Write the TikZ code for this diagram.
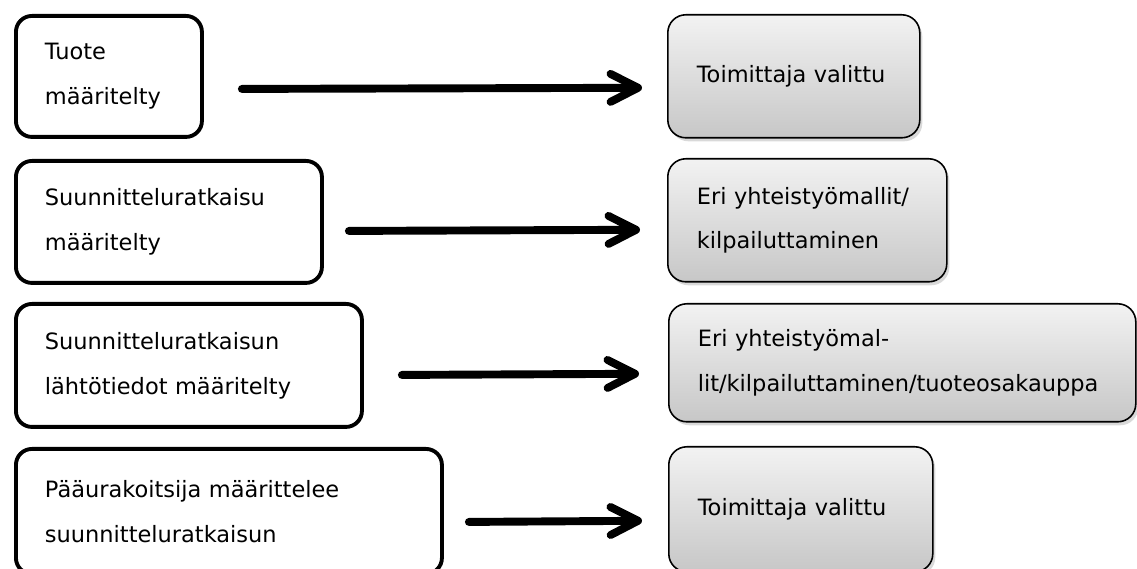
\documentclass[tikz,border=0pt]{standalone}
\usepackage{fontspec}
\setmainfont{DejaVu Sans}
\usetikzlibrary{positioning,arrows.meta,shadows}

\begin{document}
\begin{tikzpicture}[every node/.style={font=\fontsize{12.8}{25.6}\selectfont},
  lbox/.style={draw, line width=2.2pt, rounded corners=0.32cm, fill=white, anchor=north west, align=left, inner xsep=0.58cm},
  rbox/.style={draw, line width=0.9pt, rounded corners=0.36cm, top color=black!5, bottom color=black!22, drop shadow={shadow xshift=0.05cm, shadow yshift=-0.07cm, opacity=0.3}, anchor=north west, align=left, inner xsep=0.58cm},
  flow/.style={-{Straight Barb[length=0.55cm, width=0.56cm, line cap=round, line join=round]}, line width=4.5pt, line cap=round}]
  \useasboundingbox (0,0) rectangle (22.74,-11.38);
  % left column
  \node[lbox, text width=2.56cm, minimum height=2.42cm] (tuote) at (0.28,-0.28) {Tuote\\määritelty};
  \node[lbox, text width=4.96cm, minimum height=2.44cm] (ratkaisu) at (0.28,-3.18) {Suunnitteluratkaisu\\määritelty};
  \node[lbox, text width=5.76cm, minimum height=2.46cm] (lahtotiedot) at (0.28,-6.04) {Suunnitteluratkaisun\\lähtötiedot määritelty};
  \node[lbox, text width=7.36cm, minimum height=2.5cm] (paaurakoitsija) at (0.28,-8.94) {Pääurakoitsija määrittelee\\suunnitteluratkaisun};
  % right column
  \node[rbox, text width=3.88cm, minimum height=2.46cm] (valittu) at (13.34,-0.28) {Toimittaja valittu};
  \node[rbox, text width=4.42cm, minimum height=2.46cm] (mallit) at (13.34,-3.16) {Eri yhteistyömallit/\\kilpailuttaminen};
  \node[rbox, text width=8.18cm, minimum height=2.36cm] (osakauppa) at (13.36,-6.06) {Eri yhteistyömal-\\lit/kilpailuttaminen/tuoteosakauppa};
  \node[rbox, text width=4.12cm, minimum height=2.5cm] (valittuB) at (13.36,-8.92) {Toimittaja valittu};
  % arrows
  \draw[flow] ([shift={(0.76,-0.25)}]tuote.east) -- ([shift={(-0.5,-0.23)}]valittu.west);
  \draw[flow] ([shift={(0.5,-0.18)}]ratkaisu.east) -- ([shift={(-0.54,-0.19)}]mallit.west);
  \draw[flow] ([shift={(0.76,-0.19)}]lahtotiedot.east) -- ([shift={(-0.58,-0.22)}]osakauppa.west);
  \draw[flow] ([shift={(0.5,-0.21)}]paaurakoitsija.east) -- ([shift={(-0.52,-0.23)}]valittuB.west);
\end{tikzpicture}
\end{document}
